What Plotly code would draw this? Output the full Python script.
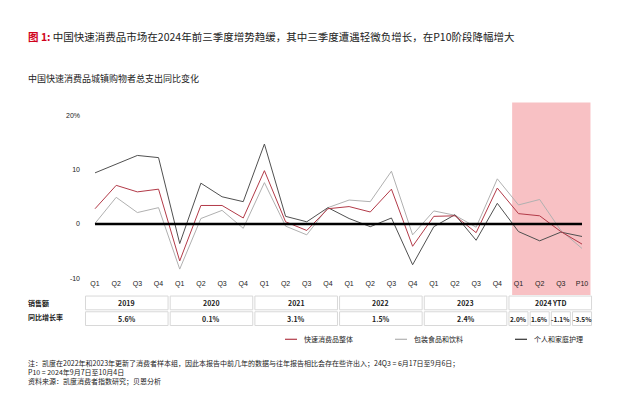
import plotly.graph_objects as go

quarters = ["Q1", "Q2", "Q3", "Q4"] * 5 + ["Q1", "Q2", "Q3", "P10"]
years = ["2019", "2020", "2021", "2022", "2023", "2024 YTD"]
year_growth = ["5.6%", "0.1%", "3.1%", "1.5%", "2.4%"]
ytd_growth = ["2.0%", "1.6%", "-1.1%", "-3.5%"]

fmcg_total = [2.8, 7.1, 5.9, 6.4, -6.8, 3.4, 3.4, 1.1, 9.8, 0.4, -1.2, 2.8,
              3.2, 2.2, 6.4, -4.1, 1.4, 1.5, -1.6, 6.6, 1.9, 1.5, -1.4, -3.7]
food_bev = [0.1, 4.9, 2.1, 3.0, -8.3, 1.0, 2.5, -0.8, 7.6, -0.4, -2.0, 3.0,
            4.4, 4.1, 9.7, -2.0, 2.4, 1.6, -0.6, 8.3, 3.5, 4.5, -1.2, -4.5]
personal_care = [9.4, 11.0, 12.6, 12.2, -3.6, 7.5, 5.0, 4.1, 14.7, 1.4, 0.4, 3.0,
                 1.0, -0.5, 1.1, -7.5, -0.5, 1.7, -3.0, 3.8, -1.4, -3.1, -1.5, -2.3]

W, H = 628, 408
OFF = 8  # page body margin

def py(p):  # screen pixel y -> paper y
    return 1 - (p - OFF) / H

def px(p):  # screen pixel x -> paper x
    return (p - OFF) / W

idx = list(range(len(quarters)))
fig = go.Figure()
for name, vals, col in [("包装食品和饮料", food_bev, "#b0b0b0"),
                        ("个人和家庭护理", personal_care, "#505050"),
                        ("快速消费品整体", fmcg_total, "#b23a48")]:
    fig.add_trace(go.Scatter(x=idx, y=vals, mode="lines", name=name,
                             line=dict(color=col, width=1), showlegend=False))

shapes = [
    dict(type="rect", xref="x", yref="paper", x0=19.7, x1=23.4, y0=py(296), y1=py(100),
         fillcolor="#f8c1c4", line_width=0, layer="below"),
    dict(type="line", xref="x", yref="y", x0=0, x1=23, y0=0, y1=0,
         line=dict(color="black", width=2.5)),
]
ann = []
font = dict(family="Noto Sans CJK SC", size=7, color="#222")
for i, yr in enumerate(years):
    x0, x1 = i * 4 - 0.45, i * 4 + 3.45
    shapes.append(dict(type="rect", xref="x", yref="paper", x0=x0, x1=x1, y0=py(311), y1=py(297),
                       line=dict(color="#d8d8d8", width=1)))
    ann.append(dict(x=i * 4 + 1.5, y=py(304), xref="x", yref="paper", yanchor="middle",
                    text="<b>%s</b>" % yr, showarrow=False, font=font))
    if i < 5:
        shapes.append(dict(type="rect", xref="x", yref="paper", x0=x0, x1=x1, y0=py(327), y1=py(313),
                           line=dict(color="#d8d8d8", width=1)))
        ann.append(dict(x=i * 4 + 1.5, y=py(320), xref="x", yref="paper", yanchor="middle",
                        text="<b>%s</b>" % year_growth[i], showarrow=False, font=font))
for j, g in enumerate(ytd_growth):
    k = 20 + j
    shapes.append(dict(type="rect", xref="x", yref="paper", x0=k - 0.45, x1=k + 0.45, y0=py(327), y1=py(313),
                       line=dict(color="#d8d8d8", width=1)))
    ann.append(dict(x=k, y=py(320), xref="x", yref="paper", yanchor="middle", text="<b>%s</b>" % g,
                    showarrow=False, font=dict(family="Noto Sans CJK SC", size=6.5, color="#222")))

ann += [
    dict(x=px(26), y=py(304), text="<b>销售额</b>", font=font),
    dict(x=px(26), y=py(318), text="<b>同比增长率</b>", font=font),
    dict(x=px(26), y=py(33),
         text="<span style='color:#d0021b'><b>图 1:</b></span> 中国快速消费品市场在2024年前三季度增势趋缓，其中三季度遭遇轻微负增长，在P10阶段降幅增大",
         font=dict(family="Noto Sans CJK SC", size=10.5, color="#222")),
    dict(x=px(26), y=py(76), text="中国快速消费品城镇购物者总支出同比变化",
         font=dict(family="Noto Sans CJK SC", size=9, color="#222")),
    dict(x=px(26), y=py(374), align="left",
         text="注：凯度在2022年和2023年更新了消费者样本组，因此本报告中前几年的数据与往年报告相比会存在些许出入；24Q3 = 6月17日至9月6日；<br>P10 = 2024年9月7日至10月4日<br>资料来源：凯度消费者指数研究；贝恩分析",
         font=dict(family="Noto Sans CJK SC", size=7, color="#222")),
]
for a in ann[-5:]:
    a.update(xref="paper", yref="paper", xanchor="left", yanchor="middle", showarrow=False)
for lx, txt, col in [(285, "快速消费品整体", "#b23a48"), (395, "包装食品和饮料", "#b0b0b0"), (515, "个人和家庭护理", "#303030")]:
    shapes.append(dict(type="line", xref="paper", yref="paper", x0=px(lx), x1=px(lx + 12),
                       y0=py(341), y1=py(341), line=dict(color=col, width=1.2)))
    ann.append(dict(x=px(lx + 17), y=py(341), xref="paper", yref="paper", xanchor="left", yanchor="middle",
                    text=txt, showarrow=False, font=font))

fig.update_layout(
    width=W, height=H, margin=dict(l=0, r=0, t=0, b=0),
    plot_bgcolor="white", paper_bgcolor="white", showlegend=False,
    shapes=shapes, annotations=ann,
    xaxis=dict(domain=[0, 1], range=[-4.11, 25.55], tickvals=idx, ticktext=quarters, showgrid=False,
               zeroline=False, showline=False, ticks="", tickfont=dict(family="Arial", size=7, color="#222")),
    yaxis=dict(domain=[py(279), py(113)], range=[-10, 20], tickvals=[-10, 0, 10, 20],
               ticktext=["-10", "0", "10", "20%"], showgrid=False, zeroline=False,
               tickfont=dict(family="Arial", size=7, color="#222"), anchor="free", position=px(80)),
)
fig.write_html("out.html")
